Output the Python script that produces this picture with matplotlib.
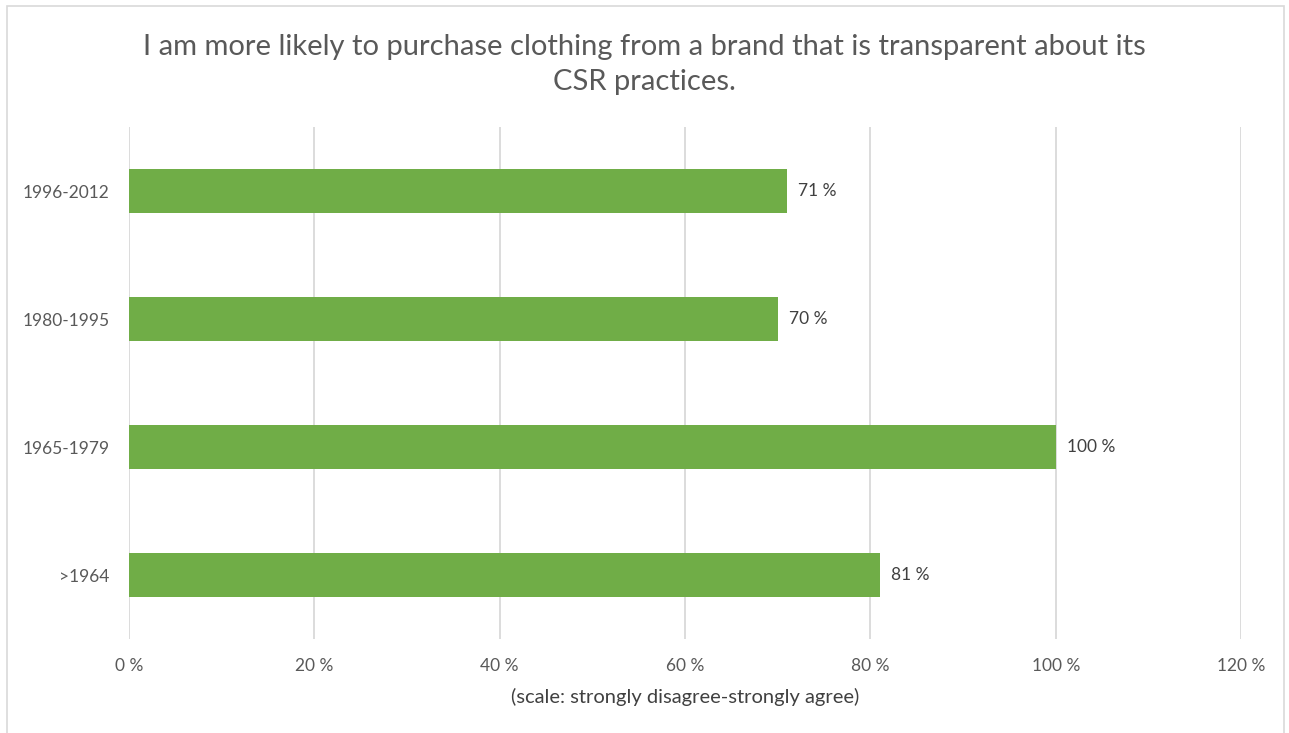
import matplotlib.pyplot as plt
from matplotlib.patches import Rectangle

# Survey share by birth cohort (bottom to top)
cohorts = [">1964", "1965-1979", "1980-1995", "1996-2012"]
share = [81, 100, 70, 71]
ticks = [0, 20, 40, 60, 80, 100, 120]

plt.rcParams['font.family'] = ['Lato', 'DejaVu Sans']

fig = plt.figure(figsize=(12.89, 7.33), dpi=100)
ax = fig.add_axes([0.1001, 0.1282, 0.8627, 0.6985])

ypos = range(len(cohorts))
ax.barh(ypos, share, height=0.35, color='#70AD47', zorder=3)
for y, v in zip(ypos, share):
    ax.text(v + 1.2, y, f"{v} %", va='center', ha='left', fontsize=12.5, color='#404040')

ax.set_xlim(0, 120)
ax.set_ylim(-0.5, len(cohorts) - 0.5)
ax.set_xticks(ticks)
ax.set_xticklabels([f"{t} %" for t in ticks])
ax.set_yticks(list(ypos))
ax.set_yticklabels(cohorts)
ax.tick_params(axis='both', length=0, labelsize=12.5, colors='#595959')
ax.tick_params(axis='x', pad=14)
ax.tick_params(axis='y', pad=14)
ax.grid(axis='x', color='#d9d9d9', linewidth=1.3, zorder=0)
for s in ax.spines.values():
    s.set_visible(False)

ax.set_xlabel("(scale: strongly disagree-strongly agree)", fontsize=14.5,
              color='#404040', labelpad=10)

fig.text(0.5, 0.912, "I am more likely to purchase clothing from a brand that is transparent about its\nCSR practices.",
         ha='center', va='center', fontsize=21, color='#595959', linespacing=1.45)

# chart frame
fig.patches.append(Rectangle((0.0055, -0.01), 0.9905, 1.002, transform=fig.transFigure,
                             fill=False, edgecolor='#d9d9d9', linewidth=1.2))

fig.savefig('out.png', dpi=100)
